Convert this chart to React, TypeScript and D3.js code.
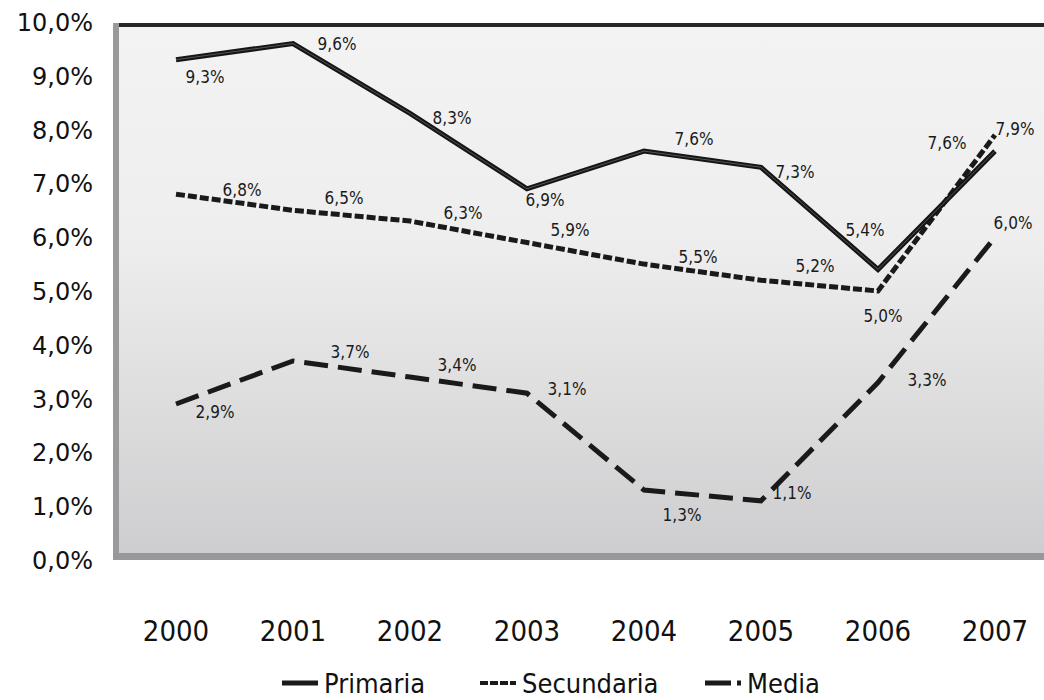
import * as d3 from "d3";
import { useEffect, useRef } from "react";

const years = ["2000", "2001", "2002", "2003", "2004", "2005", "2006", "2007"];
const primaria = [9.3, 9.6, 8.3, 6.9, 7.6, 7.3, 5.4, 7.6];
const secundaria = [6.8, 6.5, 6.3, 5.9, 5.5, 5.2, 5.0, 7.9];
const media = [2.9, 3.7, 3.4, 3.1, 1.3, 1.1, 3.3, 6.0];
const yTicks = [0, 1, 2, 3, 4, 5, 6, 7, 8, 9, 10];

// label offsets from each point
const primariaOff = [[29, 17], [44, 0], [42, 5], [18, 11], [50, -12], [34, 5], [-13, -39], [-48, -8]];
const secundariaOff = [[66, -4], [51, -12], [53, -8], [43, -13], [54, -7], [54, -14], [5, 25], [20, -6]];
const mediaOff = [[39, 8], [57, -9], [47, -12], [40, -4], [38, 25], [31, -8], [49, -2], [18, -14]];

const fmt = (v: number) => v.toFixed(1).replace(".", ",") + "%";

function App() {
  const ref = useRef<SVGSVGElement>(null);

  useEffect(() => {
    const svg = d3.select(ref.current);
    svg.selectAll("*").remove();
    const width = 1044;
    const height = 700;
    const frame = { left: 113, top: 23, right: 1044, bottom: 560 };

    const x = d3
      .scalePoint<string>()
      .domain(years)
      .range([176, 995]);
    const y = d3.scaleLinear().domain([0, 10]).range([560, 22]);

    const defs = svg.append("defs");
    const grad = defs
      .append("linearGradient")
      .attr("id", "bg")
      .attr("x1", 0)
      .attr("y1", 0)
      .attr("x2", 0)
      .attr("y2", 1);
    grad.append("stop").attr("offset", "0").attr("stop-color", "#f3f3f3");
    grad.append("stop").attr("offset", "0.4").attr("stop-color", "#eeeeee");
    grad.append("stop").attr("offset", "1").attr("stop-color", "#cdcdcf");

    svg.append("rect").attr("width", width).attr("height", height).attr("fill", "#ffffff");

    svg
      .append("rect")
      .attr("x", frame.left)
      .attr("y", frame.top)
      .attr("width", frame.right - frame.left)
      .attr("height", frame.bottom - frame.top)
      .attr("fill", "url(#bg)");

    // frame edges
    svg
      .append("rect")
      .attr("x", frame.left)
      .attr("y", frame.top)
      .attr("width", 6)
      .attr("height", frame.bottom - frame.top)
      .attr("fill", "#9a9a9c");
    svg
      .append("rect")
      .attr("x", frame.left)
      .attr("y", frame.bottom - 7)
      .attr("width", frame.right - frame.left)
      .attr("height", 7)
      .attr("fill", "#98989a");
    svg
      .append("rect")
      .attr("x", frame.left + 6)
      .attr("y", frame.top)
      .attr("width", frame.right - frame.left - 6)
      .attr("height", 4)
      .attr("fill", "#262626");

    // y axis labels
    svg
      .append("g")
      .selectAll("text")
      .data(yTicks)
      .join("text")
      .attr("x", 93)
      .attr("y", (d) => y(d) + 9)
      .attr("text-anchor", "end")
      .attr("font-family", "DejaVu Sans")
      .attr("font-size", 24)
      .attr("fill", "#111")
      .text((d) => fmt(d));

    // x axis labels
    svg
      .append("g")
      .selectAll("text")
      .data(years)
      .join("text")
      .attr("x", (d) => x(d)!)
      .attr("y", 641)
      .attr("text-anchor", "middle")
      .attr("font-family", "DejaVu Sans Condensed")
      .attr("font-size", 29)
      .attr("fill", "#111")
      .text((d) => d);

    const line = d3
      .line<number>()
      .x((_, i) => x(years[i])!)
      .y((d) => y(d));

    // Media: long dashes
    svg
      .append("path")
      .datum(media)
      .attr("fill", "none")
      .attr("stroke", "#1a1a1a")
      .attr("stroke-width", 5)
      .attr("stroke-dasharray", "24,10")
      .attr("d", line);

    // Secundaria: short dashes
    svg
      .append("path")
      .datum(secundaria)
      .attr("fill", "none")
      .attr("stroke", "#1a1a1a")
      .attr("stroke-width", 5)
      .attr("stroke-dasharray", "9,3")
      .attr("d", line);

    // Primaria: solid, slightly doubled
    svg
      .append("path")
      .datum(primaria)
      .attr("fill", "none")
      .attr("stroke", "#151515")
      .attr("stroke-width", 5)
      .attr("stroke-linejoin", "miter")
      .attr("d", line);
    svg
      .append("path")
      .datum(primaria)
      .attr("fill", "none")
      .attr("stroke", "#9a9a9a")
      .attr("stroke-width", 0.8)
      .attr("opacity", 0.6)
      .attr("d", line);

    const labels = (vals: number[], off: number[][]) => {
      svg
        .append("g")
        .selectAll("text")
        .data(vals)
        .join("text")
        .attr("x", (d, i) => x(years[i])! + off[i][0])
        .attr("y", (d, i) => y(d) + off[i][1] + 6)
        .attr("text-anchor", "middle")
        .attr("font-family", "DejaVu Sans Condensed")
        .attr("font-size", 17)
        .attr("fill", "#1a1a1a")
        .text((d) => fmt(d));
    };
    labels(primaria, primariaOff);
    labels(secundaria, secundariaOff);
    labels(media, mediaOff);

    // legend
    const legend = [
      { name: "Primaria", x: 282, dash: "none", w: 5 },
      { name: "Secundaria", x: 480, dash: "8,2", w: 4 },
      { name: "Media", x: 705, dash: "26,6", w: 5 },
    ];
    const lg = svg.append("g");
    legend.forEach((d) => {
      lg.append("line")
        .attr("x1", d.x)
        .attr("x2", d.x + 36)
        .attr("y1", 683)
        .attr("y2", 683)
        .attr("stroke", "#1a1a1a")
        .attr("stroke-width", d.w)
        .attr("stroke-dasharray", d.dash);
      lg.append("text")
        .attr("x", d.x + 42)
        .attr("y", 693)
        .attr("font-family", "DejaVu Sans Condensed")
        .attr("font-size", 27)
        .attr("fill", "#111")
        .text(d.name);
    });
  }, []);

  return <svg ref={ref} width={1044} height={700} style={{ display: "block", position: "absolute", left: 0, top: 0 }} />;
}

export default App;
